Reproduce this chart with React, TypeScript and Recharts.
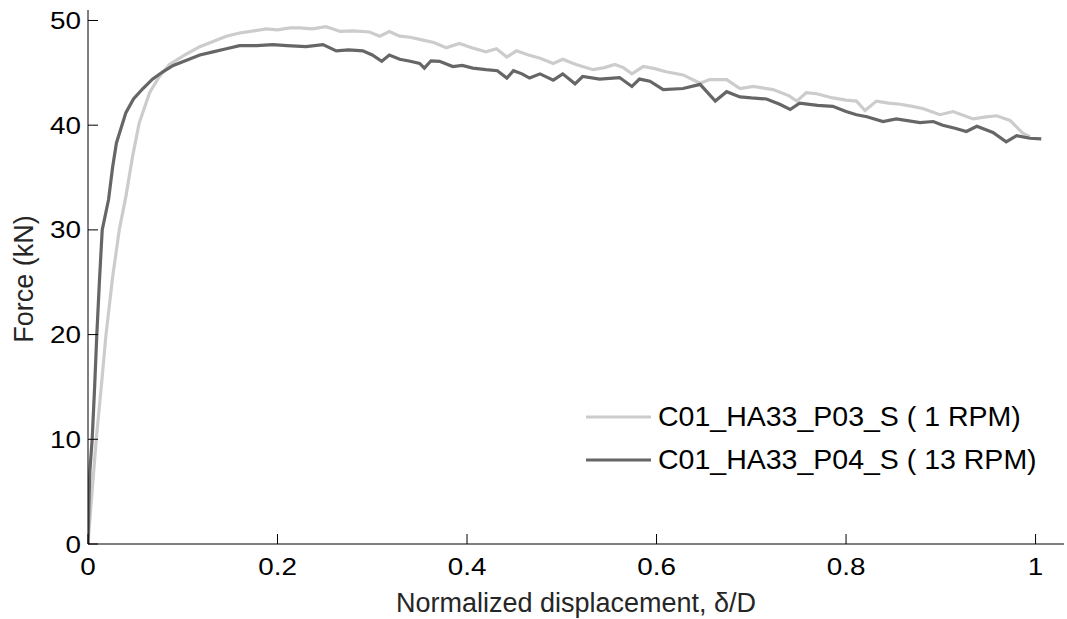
import React from "react"
import { LineChart, Line, XAxis, YAxis, Legend, Label } from "recharts"

// 1 RPM test (light grey)
const slowDisp = [
  0, 0.003, 0.0087, 0.014, 0.019, 0.026, 0.033, 0.04, 0.047, 0.054, 0.065, 0.075, 0.086, 0.104, 0.118, 0.132,
  0.146, 0.16, 0.175, 0.188, 0.2, 0.213, 0.223, 0.237, 0.251, 0.258, 0.266, 0.28, 0.297, 0.308, 0.318, 0.329,
  0.34, 0.35, 0.365, 0.378, 0.392, 0.405, 0.42, 0.431, 0.442, 0.452, 0.465, 0.477, 0.491, 0.501, 0.515, 0.533,
  0.545, 0.556, 0.565, 0.574, 0.586, 0.598, 0.61, 0.628, 0.646, 0.656, 0.674, 0.688, 0.702, 0.723, 0.74, 0.748,
  0.758, 0.769, 0.786, 0.8, 0.811, 0.82, 0.832, 0.845, 0.857, 0.87, 0.881, 0.899, 0.913, 0.934, 0.948, 0.959,
  0.973, 0.987, 0.994,
]
const slowForce = [
  0, 3.5, 10, 15, 20, 25.5, 30, 33.2, 37, 40.2, 43.1, 44.6, 45.8, 46.8, 47.5, 48.0,
  48.5, 48.8, 49.0, 49.2, 49.1, 49.3, 49.3, 49.2, 49.4, 49.2, 48.95, 49.0, 48.9, 48.5, 48.95, 48.5,
  48.4, 48.2, 47.9, 47.4, 47.8, 47.4, 47.0, 47.3, 46.5, 47.1, 46.7, 46.4, 45.9, 46.3, 45.8, 45.3,
  45.5, 45.8, 45.5, 44.9, 45.6, 45.4, 45.1, 44.8, 44.0, 44.35, 44.35, 43.5, 43.7, 43.4, 42.8, 42.3,
  43.1, 43.0, 42.6, 42.4, 42.3, 41.4, 42.3, 42.1, 42.0, 41.8, 41.6, 41.0, 41.3, 40.6, 40.8, 40.9,
  40.45, 39.2, 38.9,
]

// 13 RPM test (dark grey)
const fastDisp = [
  0, 0.001, 0.002, 0.0044, 0.007, 0.0093, 0.012, 0.015, 0.0217, 0.026, 0.03, 0.04, 0.048, 0.058, 0.068, 0.079,
  0.09, 0.104, 0.118, 0.132, 0.146, 0.16, 0.178, 0.195, 0.21, 0.23, 0.248, 0.262, 0.275, 0.29, 0.3, 0.31,
  0.318, 0.329, 0.34, 0.35, 0.355, 0.362, 0.371, 0.385, 0.395, 0.406, 0.42, 0.432, 0.442, 0.449, 0.458, 0.466,
  0.477, 0.491, 0.501, 0.514, 0.522, 0.54, 0.561, 0.574, 0.582, 0.593, 0.607, 0.628, 0.646, 0.662, 0.674, 0.688,
  0.7, 0.716, 0.73, 0.741, 0.751, 0.77, 0.786, 0.8, 0.811, 0.822, 0.839, 0.853, 0.878, 0.892, 0.902, 0.915,
  0.927, 0.938, 0.955, 0.969, 0.98, 0.994, 1.006,
]
const fastForce = [
  0, 4, 7, 10, 15, 20, 25, 30, 32.9, 36, 38.3, 41.2, 42.5, 43.5, 44.4, 45.1,
  45.7, 46.2, 46.7, 47.0, 47.3, 47.6, 47.6, 47.7, 47.6, 47.5, 47.7, 47.1, 47.2, 47.1, 46.7, 46.1,
  46.7, 46.3, 46.1, 45.9, 45.45, 46.15, 46.1, 45.6, 45.7, 45.45, 45.3, 45.2, 44.5, 45.2, 44.9, 44.5,
  44.9, 44.3, 44.9, 43.95, 44.65, 44.4, 44.55, 43.7, 44.4, 44.2, 43.4, 43.5, 43.9, 42.3, 43.2, 42.7,
  42.6, 42.5, 42.0, 41.5, 42.1, 41.9, 41.8, 41.3, 41.0, 40.8, 40.35, 40.6, 40.25, 40.35, 40.0, 39.7,
  39.4, 39.9, 39.3, 38.4, 39.0, 38.75, 38.7,
]

const xTicks = [0, 0.2, 0.4, 0.6, 0.8, 1]
const yTicks = [0, 10, 20, 30, 40, 50]

const series = [
  { name: "C01_HA33_P03_S ( 1 RPM)", color: "#cccccc", disp: slowDisp, force: slowForce },
  { name: "C01_HA33_P04_S ( 13 RPM)", color: "#666666", disp: fastDisp, force: fastForce },
]

const font = "'Liberation Sans', Arial, Helvetica, sans-serif"

// tick labels in the source look a bit wide, so stretch them slightly
const XTick = (props: any) => {
  const { x, y, payload } = props
  return (
    <g>
      <line x1={x} x2={x} y1={y} y2={y - 10} stroke="#000" strokeWidth={1} />
      <text
        transform={`translate(${x}, ${y + 31}) scale(1.16, 1)`}
        textAnchor="middle"
        fontSize={24}
        fontFamily={font}
        fill="#000"
      >
        {String(payload.value)}
      </text>
    </g>
  )
}

const YTick = (props: any) => {
  const { x, y, payload } = props
  return (
    <g>
      <line x1={x} x2={x + 10} y1={y} y2={y} stroke="#000" strokeWidth={1} />
      <text
        transform={`translate(${x - 7}, ${y + 8.5}) scale(1.16, 1)`}
        textAnchor="end"
        fontSize={24}
        fontFamily={font}
        fill="#000"
      >
        {String(payload.value)}
      </text>
    </g>
  )
}

const LegendBox = () => (
  <div style={{ fontFamily: font, fontSize: 28.5, color: "#000" }}>
    {series.map((s) => (
      <div key={s.name} style={{ display: "flex", alignItems: "center", height: 43, whiteSpace: "nowrap" }}>
        <svg width={65} height={6} style={{ marginRight: 7 }}>
          <line x1={0} x2={65} y1={3} y2={3} stroke={s.color} strokeWidth={3} />
        </svg>
        <span>{s.name}</span>
      </div>
    ))}
  </div>
)

export default function App() {
  return (
    <div style={{ position: "absolute", left: 0, top: 0, background: "#fff" }}>
      <LineChart width={1067} height={619} margin={{ top: 10, right: 3, bottom: 0, left: 0 }}>
        <XAxis
          type="number"
          dataKey="x"
          domain={[0, 1.03]}
          ticks={xTicks}
          interval={0}
          height={75}
          tickSize={0}
          tickMargin={0}
          tickLine={false}
          tick={<XTick />}
          axisLine={{ stroke: "#000", strokeWidth: 1 }}
          allowDataOverflow
        >
          <Label
            content={() => (
              <text x={576} y={612} textAnchor="middle" fontSize={27} fontFamily={font} fill="#262626">
                Normalized displacement, δ/D
              </text>
            )}
          />
        </XAxis>
        <YAxis
          type="number"
          domain={[0, 51]}
          ticks={yTicks}
          interval={0}
          width={88}
          tickSize={0}
          tickMargin={0}
          tickLine={false}
          tick={<YTick />}
          axisLine={{ stroke: "#000", strokeWidth: 1 }}
          allowDataOverflow
        >
          <Label
            content={() => (
              <text
                transform="translate(33, 279) rotate(-90)"
                textAnchor="middle"
                fontSize={27}
                fontFamily={font}
                fill="#262626"
              >
                Force (kN)
              </text>
            )}
          />
        </YAxis>
        <Legend
          layout="vertical"
          align="center"
          verticalAlign="middle"
          content={<LegendBox />}
          wrapperStyle={{ position: "absolute", left: 586, top: 395, width: 475 }}
        />
        {series.map((s) => (
          <Line
            key={s.name}
            name={s.name}
            data={s.disp.map((d, i) => ({ x: d, y: s.force[i] }))}
            dataKey="y"
            type="linear"
            stroke={s.color}
            strokeWidth={3.2}
            dot={false}
            activeDot={false}
            isAnimationActive={false}
          />
        ))}
      </LineChart>
    </div>
  )
}
